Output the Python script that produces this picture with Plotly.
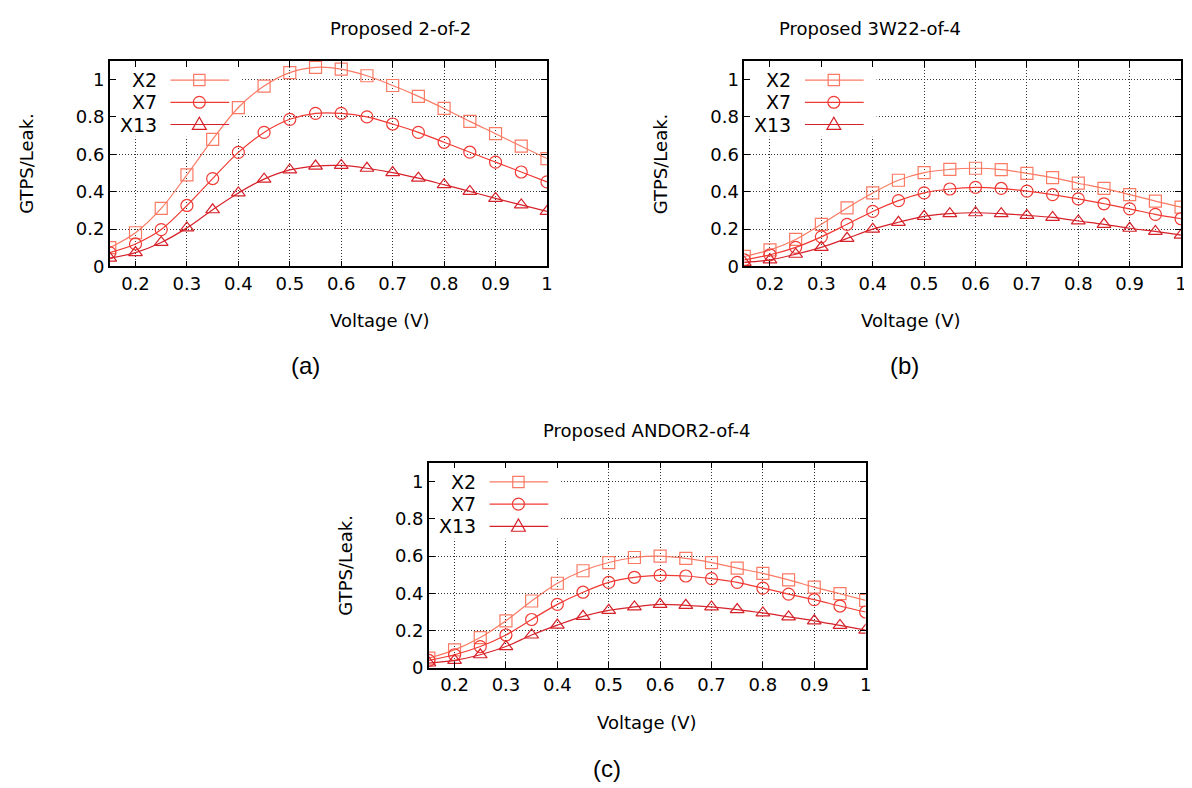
import plotly.graph_objects as go

# ---------------- data ----------------
voltage = [0.15, 0.2, 0.25, 0.3, 0.35, 0.4, 0.45, 0.5, 0.55, 0.6,
           0.65, 0.7, 0.75, 0.8, 0.85, 0.9, 0.95, 1.0]
series_names = ["X2", "X7", "X13"]

a_x2 = [0.10, 0.18, 0.31, 0.49, 0.68, 0.85, 0.965, 1.037, 1.065, 1.056,
        1.02, 0.968, 0.91, 0.845, 0.776, 0.71, 0.643, 0.577]
a_x7 = [0.074, 0.12, 0.197, 0.326, 0.47, 0.61, 0.717, 0.787, 0.819, 0.819,
        0.80, 0.762, 0.717, 0.664, 0.611, 0.558, 0.505, 0.452]
a_x13 = [0.044, 0.074, 0.128, 0.206, 0.303, 0.393, 0.467, 0.516, 0.537, 0.540,
         0.525, 0.502, 0.472, 0.437, 0.401, 0.364, 0.329, 0.294]

b_x2 = [0.053, 0.088, 0.144, 0.225, 0.313, 0.393, 0.461, 0.502, 0.519, 0.525,
        0.518, 0.498, 0.475, 0.445, 0.417, 0.384, 0.349, 0.317]
b_x7 = [0.035, 0.062, 0.102, 0.158, 0.225, 0.294, 0.352, 0.393, 0.414, 0.423,
        0.417, 0.403, 0.384, 0.361, 0.335, 0.308, 0.278, 0.255]
b_x13 = [0.021, 0.035, 0.065, 0.102, 0.150, 0.199, 0.236, 0.268, 0.282, 0.287,
         0.282, 0.273, 0.262, 0.243, 0.225, 0.204, 0.187, 0.167]

c_x2 = [0.053, 0.097, 0.163, 0.253, 0.359, 0.454, 0.521, 0.565, 0.592, 0.599,
        0.587, 0.565, 0.535, 0.507, 0.472, 0.433, 0.398, 0.362]
c_x7 = [0.041, 0.071, 0.115, 0.177, 0.260, 0.341, 0.406, 0.459, 0.486, 0.496,
        0.493, 0.479, 0.459, 0.428, 0.396, 0.366, 0.332, 0.300]
c_x13 = [0.027, 0.041, 0.071, 0.115, 0.177, 0.230, 0.277, 0.309, 0.327, 0.341,
         0.336, 0.327, 0.313, 0.295, 0.274, 0.253, 0.228, 0.203]

panel_titles = ["Proposed 2-of-2", "Proposed 3W22-of-4", "Proposed ANDOR2-of-4"]
panel_captions = ["(a)", "(b)", "(c)"]
x_tick_vals = [0.2, 0.3, 0.4, 0.5, 0.6, 0.7, 0.8, 0.9, 1.0]
x_tick_text = ["0.2", "0.3", "0.4", "0.5", "0.6", "0.7", "0.8", "0.9", "1"]
y_tick_vals = [0, 0.2, 0.4, 0.6, 0.8, 1.0]
y_tick_text = ["0", "0.2", "0.4", "0.6", "0.8", "1"]
x_title = "Voltage (V)"
y_title = "GTPS/Leak."

# ---------------- styling ----------------
W, H = 1192, 788
colors = ["#fa7a64", "#f03a34", "#d6222a"]
symbols = ["square-open", "circle-open", "triangle-up-open"]
FONT = "DejaVu Sans"
FS = 18
X_RANGE = [0.15, 1.0]
Y_RANGE = [0, 1.1]

# plot boxes in pixels: left, top, right, bottom
boxes = [(102.3, 53.5, 541.7, 261.7),
         (740.0, 53.5, 1179.0, 261.7),
         (423.0, 460.5, 862.0, 668.5)]
caption_pos = [(282, 362), (918, 362), (602, 770)]
panel_data = [[a_x2, a_x7, a_x13], [b_x2, b_x7, b_x13], [c_x2, c_x7, c_x13]]


def px(x):
    return x / W


def py(y):
    return 1 - y / H


fig = go.Figure()
shapes = []
annotations = []
layout_axes = {}

for i, (box, data) in enumerate(zip(boxes, panel_data)):
    n = "" if i == 0 else str(i + 1)
    L, T, R, B = box
    bw, bh = R - L, B - T
    for name, vals, col, sym in zip(series_names, data, colors, symbols):
        fig.add_trace(go.Scatter(
            x=voltage, y=vals, name=name, mode="lines+markers",
            line=dict(color=col, width=1.2, shape="spline", smoothing=1.0),
            marker=dict(symbol=sym, size=12, color=col,
                        line=dict(color=col, width=1.2)),
            xaxis="x" + n, yaxis="y" + n, showlegend=False))

    common = dict(showline=True, linecolor="black", linewidth=1.5, mirror="ticks",
                  ticks="inside", ticklen=6, tickcolor="black", tickwidth=1,
                  showgrid=True, gridcolor="#333", griddash="1px,2px", gridwidth=1,
                  zeroline=False, tickfont=dict(family=FONT, size=FS, color="black"))
    layout_axes["xaxis" + n] = dict(
        domain=[px(L), px(R)], range=X_RANGE, anchor="y" + n,
        tickmode="array", tickvals=x_tick_vals, ticktext=x_tick_text, **common)
    layout_axes["yaxis" + n] = dict(
        domain=[py(B), py(T)], range=Y_RANGE, anchor="x" + n,
        tickmode="array", tickvals=y_tick_vals, ticktext=y_tick_text, **common)

    # opaque key area hiding grid lines (data coordinates of this panel)
    xs = (X_RANGE[1] - X_RANGE[0]) / bw
    ys = (Y_RANGE[1] - Y_RANGE[0]) / bh
    shapes.append(dict(type="rect", xref="x" + n, yref="y" + n,
                       x0=X_RANGE[0] + 1 * xs, x1=X_RANGE[0] + 133 * xs,
                       y0=Y_RANGE[1] - 77 * ys, y1=Y_RANGE[1] - 1 * ys,
                       fillcolor="white", line=dict(width=0), layer="between"))

    # key entries
    for k, (name, col) in enumerate(zip(series_names, colors)):
        yy = T + 19.5 + k * 22.5
        annotations.append(dict(x=px(L + 49), y=py(yy), xref="paper", yref="paper",
                                text=name, showarrow=False, xanchor="right",
                                yanchor="middle",
                                font=dict(family=FONT, size=19, color="black")))
        shapes.append(dict(type="line", xref="paper", yref="paper",
                           x0=px(L + 61), x1=px(L + 120), y0=py(yy), y1=py(yy),
                           line=dict(color=col, width=1.2), layer="above"))
        cx = L + 90
        s = 5.7
        if k == 0:
            shapes.append(dict(type="rect", xref="paper", yref="paper",
                               x0=px(cx - s), x1=px(cx + s), y0=py(yy + s), y1=py(yy - s),
                               line=dict(color=col, width=1.2), layer="above"))
        elif k == 1:
            shapes.append(dict(type="circle", xref="paper", yref="paper",
                               x0=px(cx - 6), x1=px(cx + 6), y0=py(yy + 6), y1=py(yy - 6),
                               line=dict(color=col, width=1.2), layer="above"))
        else:
            path = "M %f,%f L %f,%f L %f,%f Z" % (
                px(cx - 7), py(yy + 5), px(cx + 7), py(yy + 5), px(cx), py(yy - 7.5))
            shapes.append(dict(type="path", xref="paper", yref="paper", path=path,
                               line=dict(color=col, width=1.2), layer="above"))

    # titles
    cxp = (L + R) / 2
    annotations.append(dict(x=px(cxp), y=py(T - 33), xref="paper", yref="paper",
                            text=panel_titles[i], showarrow=False, yanchor="middle",
                            font=dict(family=FONT, size=FS, color="black")))
    annotations.append(dict(x=px(cxp), y=py(B + 55), xref="paper", yref="paper",
                            text=x_title, showarrow=False, yanchor="middle",
                            font=dict(family=FONT, size=FS, color="black")))
    annotations.append(dict(x=px(L - 84), y=py((T + B) / 2), xref="paper", yref="paper",
                            text=y_title, showarrow=False, textangle=-90,
                            xanchor="center", yanchor="middle",
                            font=dict(family=FONT, size=FS, color="black")))
    cpx, cpy = caption_pos[i]
    annotations.append(dict(x=px(cpx), y=py(cpy), xref="paper", yref="paper",
                            text=panel_captions[i], showarrow=False, yanchor="middle",
                            font=dict(family="Liberation Sans", size=24, color="black")))

fig.update_layout(width=W, height=H, margin=dict(l=0, r=0, t=0, b=0),
                  paper_bgcolor="white", plot_bgcolor="white",
                  shapes=shapes, annotations=annotations, showlegend=False,
                  **layout_axes)

fig.write_html("out.html")
